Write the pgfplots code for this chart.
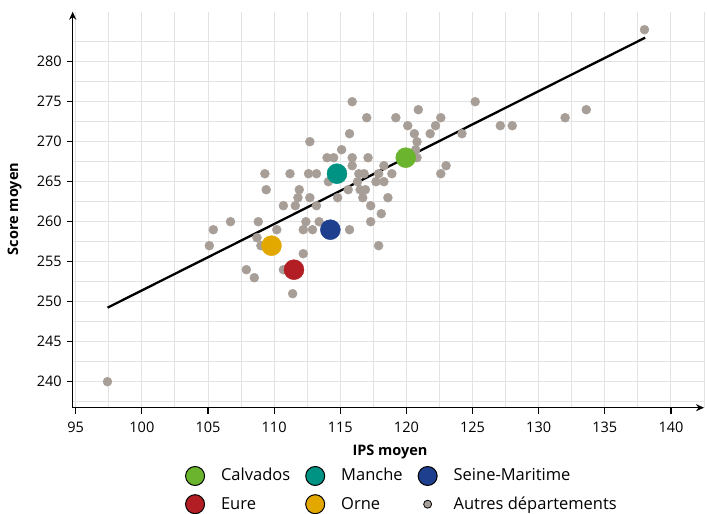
\documentclass[border=0pt]{standalone}
\usepackage{pgfplots}
\pgfplotsset{compat=1.18}
\usepackage{fontspec}
\setmainfont{Open Sans}
\usetikzlibrary{arrows.meta,calc}
\definecolor{calv}{HTML}{6AB42E}
\definecolor{manc}{HTML}{009282}
\definecolor{seine}{HTML}{1D3F8E}
\definecolor{eure}{HTML}{B21E23}
\definecolor{orne}{HTML}{E2A800}
\definecolor{autre}{HTML}{A89E98}
\definecolor{gridc}{HTML}{E3E3E3}
\pgfplotstableread{
x y
97.4 240
105.1 257
105.4 259
106.7 260
107.9 254
108.5 253
108.7 258
108.8 260
109.0 257
109.3 266
109.4 264
110.2 259
110.7 262
110.7 254
111.2 266
111.4 251
111.6 262
111.8 263
111.9 264
112.2 259
112.2 256
112.4 260
112.6 266
112.7 270
112.7 263
112.9 259
113.2 266
113.2 262
113.4 260
114.0 268
114.1 265
114.5 268
114.8 263
115.1 269
115.6 264
115.7 259
115.7 271
115.9 275
115.9 268
115.9 267
116.3 265
116.4 266
116.8 266
116.5 264
116.9 264
116.7 263
117.0 273
117.1 268
117.3 262
117.3 260
117.7 265
117.9 266
117.9 257
118.1 261
118.3 265
118.3 267
118.6 263
118.9 266
119.2 273
120.1 272
120.6 271
120.7 269
120.8 270
120.8 268
120.9 274
121.8 271
122.2 272
122.6 273
122.6 266
123.0 267
124.2 271
125.2 275
127.1 272
128.0 272
132.0 273
133.6 274
138.0 284
}\autres
\begin{document}
\fontsize{14.5}{17}\selectfont
\begin{tikzpicture}
\begin{axis}[
  scale only axis, width=631.3pt, height=396pt,
  xmin=94.77, xmax=142.5, ymin=236.75, ymax=286.25,
  axis x line*=bottom, axis y line*=left,
  x axis line style={line width=1.3pt, -{Stealth[length=8pt,width=7pt]}},
  y axis line style={line width=1.3pt, -{Stealth[length=8pt,width=7pt]}},
  xtick={95,100,...,140}, ytick={240,245,...,280},
  minor xtick={97.5,102.5,...,142.5}, minor ytick={237.5,242.5,...,285},
  grid=both,
  major grid style={gridc, line width=1pt},
  minor grid style={gridc, line width=1pt},
  tick align=outside, major tick length=6pt, minor tick length=0pt,
  major tick style={black, line width=1.2pt},
  /pgf/number format/assume math mode=true,
  /pgf/number format/1000 sep={},
  ticklabel style={font=\fontsize{14.5}{17}\selectfont},
  xticklabel style={yshift=-3pt},
  xlabel={\textbf{IPS moyen}}, ylabel={\textbf{Score moyen}},
  every axis x label/.style={at={(rel axis cs:0.5026,-0.1119)}, anchor=center},
  every axis y label/.style={at={(rel axis cs:-0.0922,0.5018)}, rotate=90, anchor=center},
  clip=false,
  legend columns=3,
  legend style={at={(rel axis cs:0.178,-0.1472)}, anchor=north west, draw=none, fill=none,
    inner sep=0pt, outer sep=0pt, row sep=8.2pt,
    font=\fontsize{16.5}{19}\selectfont,
    /tikz/every even column/.append style={column sep=15pt},
    nodes={inner sep=0pt, anchor=base west}},
  legend cell align=left,
]
\addplot[only marks, mark=*, mark size=4.5pt, color=autre, forget plot] table {\autres};
\addplot[black, line width=2.3pt, forget plot] coordinates {(97.4,249.25) (138.05,283.0)};
\addplot[only marks, mark=*, mark size=10pt, color=calv, forget plot] coordinates {(119.95,268)};
\addplot[only marks, mark=*, mark size=10pt, color=manc, forget plot] coordinates {(114.75,266)};
\addplot[only marks, mark=*, mark size=10pt, color=seine, forget plot] coordinates {(114.25,259)};
\addplot[only marks, mark=*, mark size=10pt, color=eure, forget plot] coordinates {(111.5,254)};
\addplot[only marks, mark=*, mark size=10pt, color=orne, forget plot] coordinates {(109.8,257)};
\addlegendimage{legend image code/.code={\path[draw=none,fill=none] (0pt,-5pt) rectangle (36pt,15pt); \filldraw[fill=calv,draw=black,line width=1pt] (10pt,5pt) circle (9.5pt);}}
\addlegendentry{Calvados}
\addlegendimage{legend image code/.code={\path[draw=none,fill=none] (0pt,-5pt) rectangle (36pt,15pt); \filldraw[fill=manc,draw=black,line width=1pt] (10pt,5pt) circle (9.5pt);}}
\addlegendentry{Manche}
\addlegendimage{legend image code/.code={\path[draw=none,fill=none] (0pt,-5pt) rectangle (36pt,15pt); \filldraw[fill=seine,draw=black,line width=1pt] (10pt,5pt) circle (9.5pt);}}
\addlegendentry{Seine-Maritime}
\addlegendimage{legend image code/.code={\path[draw=none,fill=none] (0pt,-5pt) rectangle (36pt,15pt); \filldraw[fill=eure,draw=black,line width=1pt] (10pt,5pt) circle (9.5pt);}}
\addlegendentry{Eure}
\addlegendimage{legend image code/.code={\path[draw=none,fill=none] (0pt,-5pt) rectangle (36pt,15pt); \filldraw[fill=orne,draw=black,line width=1pt] (10pt,5pt) circle (9.5pt);}}
\addlegendentry{Orne}
\addlegendimage{legend image code/.code={\path[draw=none,fill=none] (0pt,-5pt) rectangle (36pt,15pt); \filldraw[fill=autre,draw=black,line width=0.8pt] (10pt,5pt) circle (4pt);}}
\addlegendentry{Autres départements}
\coordinate (sw) at (rel axis cs:0,0);
\end{axis}
\pgfresetboundingbox
\path ($(sw)+(-72.7pt,-106.3pt)$) rectangle ($(sw)+(634.3pt,407.7pt)$);
\end{tikzpicture}
\end{document}
